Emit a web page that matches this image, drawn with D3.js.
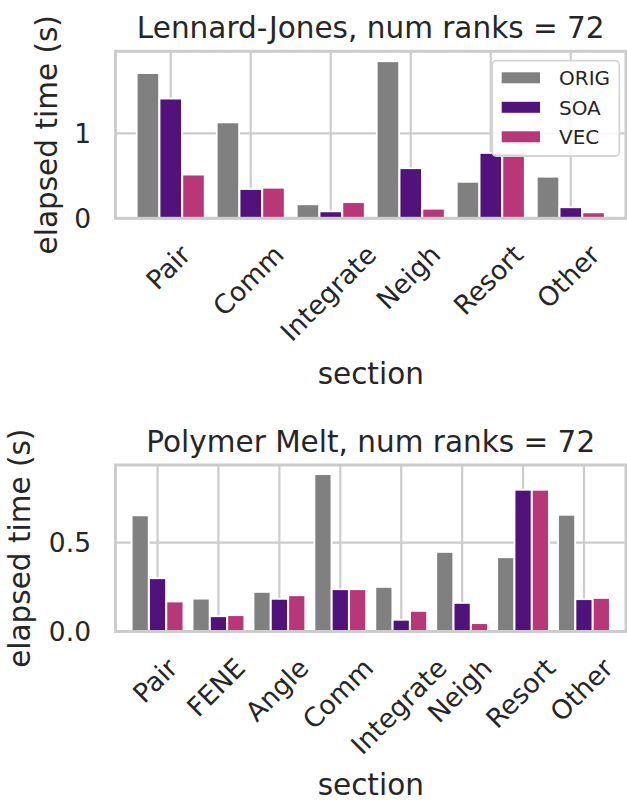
<!DOCTYPE html>
<html><head><meta charset="utf-8">
<script src="https://cdn.jsdelivr.net/npm/d3@7"></script>
<style>body{margin:0;background:#fff}svg{display:block;font-family:"DejaVu Sans",sans-serif}</style>
</head><body><svg id="c" width="627" height="801"></svg>
<script>
// ---- data ----
const seriesNames = ["ORIG", "SOA", "VEC"];
const seriesColors = ["#808080", "#52127b", "#b73779"];

const ljSections = ["Pair", "Comm", "Integrate", "Neigh", "Resort", "Other"];
const ljOrig = [1.71, 1.13, 0.165, 1.85, 0.43, 0.49];
const ljSoa  = [1.41, 0.345, 0.082, 0.59, 0.77, 0.13];
const ljVec  = [0.515, 0.36, 0.19, 0.113, 0.77, 0.07];
const ljYTicks = [0, 1];
const ljTitle = "Lennard-Jones, num ranks = 72";

const pmSections = ["Pair", "FENE", "Angle", "Comm", "Integrate", "Neigh", "Resort", "Other"];
const pmOrig = [0.654, 0.185, 0.223, 0.886, 0.251, 0.448, 0.418, 0.657];
const pmSoa  = [0.300, 0.086, 0.184, 0.238, 0.066, 0.161, 0.798, 0.182];
const pmVec  = [0.169, 0.092, 0.204, 0.238, 0.116, 0.047, 0.798, 0.189];
const pmYTicks = [0, 0.5];
const pmTitle = "Polymer Melt, num ranks = 72";

const xLabel = "section";
const yLabel = "elapsed time (s)";

// ---- drawing ----
const svg = d3.select("#c");
const TXT = "#262626", GRID = "#cccccc";
const tickFont = 26.5, labelFont = 29.5;

function panel(o) {
  const g = svg.append("g");
  const L = 115.5, R = 626, T = o.top, B = o.bottom;
  const x = d3.scalePoint().domain(d3.range(o.sections.length)).range([L, R]).padding(0.69);
  const step = x.step();
  const y = d3.scaleLinear().domain([0, o.yMax]).range([B, T]);
  const series = [o.orig, o.soa, o.vec];

  // grid
  g.append("g").selectAll("line").data(o.sections.map((d, i) => i)).join("line")
    .attr("x1", d => x(d)).attr("x2", d => x(d)).attr("y1", T).attr("y2", B)
    .attr("stroke", GRID).attr("stroke-width", 2.2);
  g.append("g").selectAll("line").data(o.yTicks).join("line")
    .attr("x1", L).attr("x2", R).attr("y1", d => y(d)).attr("y2", d => y(d))
    .attr("stroke", GRID).attr("stroke-width", 2.2);

  // bars
  series.forEach((vals, s) => {
    g.append("g").selectAll("rect").data(vals).join("rect")
      .attr("x", (d, i) => x(i) + (s - 1) * 0.285 * step - 0.14 * step)
      .attr("width", 0.28 * step)
      .attr("y", d => y(d)).attr("height", d => y(0) - y(d))
      .attr("fill", seriesColors[s]).attr("stroke", "#fff").attr("stroke-width", 1.8);
  });

  // frame
  g.append("rect").attr("x", L).attr("y", T).attr("width", R - L).attr("height", B - T)
    .attr("fill", "none").attr("stroke", GRID).attr("stroke-width", 3);

  // y ticks
  g.append("g").selectAll("text").data(o.yTicks).join("text")
    .attr("x", 91).attr("y", d => y(d)).attr("dy", "0.35em")
    .attr("text-anchor", "end").attr("font-size", tickFont).attr("fill", TXT)
    .text(o.yFmt);

  // x ticks (rotated 45deg, bbox centred on tick)
  g.append("g").selectAll("text").data(o.sections).join("text")
    .attr("text-anchor", "middle").attr("dy", "0.22em")
    .attr("font-size", tickFont).attr("fill", TXT)
    .text(d => d)
    .each(function (d, i) {
      const w = this.getComputedTextLength();
      const cx = x(i), cy = B + 24.7 + (w + tickFont) * 0.3535;
      d3.select(this).attr("transform", `translate(${cx},${cy}) rotate(-45)`);
    });

  // title
  g.append("text").attr("x", (L + R) / 2).attr("y", T - 13.3)
    .attr("text-anchor", "middle").attr("font-size", labelFont).attr("fill", TXT).text(o.title);
  // x label
  g.append("text").attr("x", (L + R) / 2).attr("y", o.xLabelY)
    .attr("text-anchor", "middle").attr("font-size", labelFont).attr("fill", TXT).text(xLabel);
  // y label
  g.append("text").attr("transform", `translate(${o.yLabelX},${(T + B) / 2}) rotate(-90)`)
    .attr("text-anchor", "middle").attr("font-size", labelFont).attr("fill", TXT).text(yLabel);

  return g;
}

panel({ sections: ljSections, orig: ljOrig, soa: ljSoa, vec: ljVec, yTicks: ljYTicks,
  yMax: 1.967, top: 51.3, bottom: 218.3, title: ljTitle, xLabelY: 384, yLabelX: 57,
  yFmt: d3.format("d") });
panel({ sections: pmSections, orig: pmOrig, soa: pmSoa, vec: pmVec, yTicks: pmYTicks,
  yMax: 0.9375, top: 465, bottom: 631.5, title: pmTitle, xLabelY: 795, yLabelX: 30,
  yFmt: d3.format(".1f") });

// legend (top panel)
const lg = svg.append("g");
lg.append("rect").attr("x", 492.3).attr("y", 60.7).attr("width", 127).attr("height", 95.3)
  .attr("rx", 4).attr("fill", "#fff").attr("fill-opacity", 0.85)
  .attr("stroke", "#d6d6d6").attr("stroke-width", 1.8);
seriesNames.forEach((n, i) => {
  const cy = 77.8 + i * 29.5;
  lg.append("rect").attr("x", 501.7).attr("y", cy - 5.5).attr("width", 38.3).attr("height", 11)
    .attr("fill", seriesColors[i]);
  lg.append("text").attr("x", 559).attr("y", cy).attr("dy", "0.36em")
    .attr("font-size", 20).attr("fill", TXT).text(n);
});
</script></body></html>
